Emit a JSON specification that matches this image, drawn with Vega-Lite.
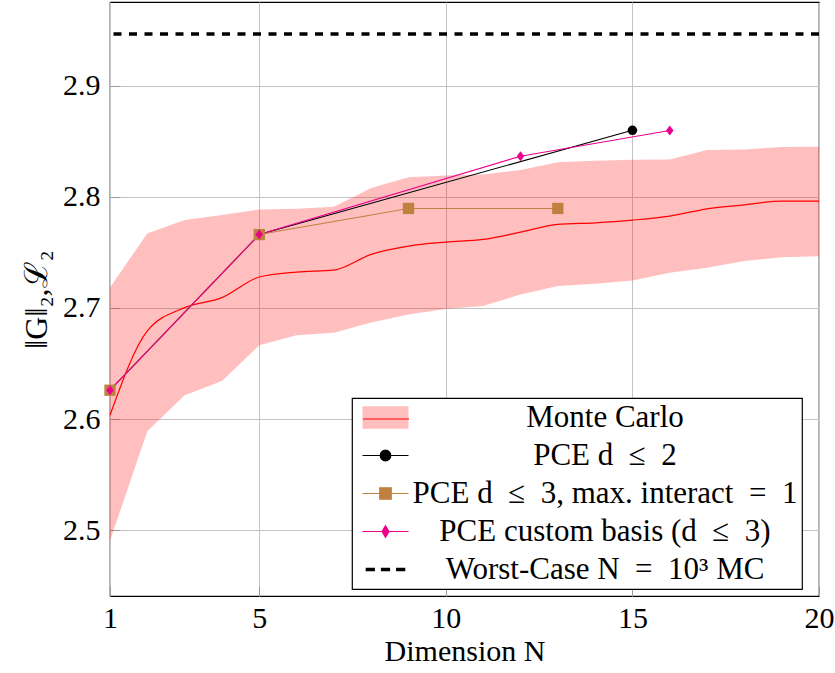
{
  "$schema": "https://vega.github.io/schema/vega-lite/v6.json",
  "width": 709,
  "height": 594,
  "autosize": {"type": "none"},
  "padding": {"left": 110, "top": 2, "right": 16, "bottom": 77},
  "background": "white",
  "config": {
    "view": {"stroke": "black", "strokeWidth": 1.2},
    "font": "Liberation Serif",
    "axis": {
      "grid": true, "gridColor": "#c4c4c4", "gridWidth": 1, "domain": false,
      "ticks": true, "tickSize": -10, "tickColor": "#9a9a9a", "tickWidth": 1,
      "labelFont": "Liberation Serif", "labelFontSize": 30, "labelColor": "black",
      "titleFont": "Liberation Serif", "titleFontSize": 30, "titleFontWeight": "normal", "titleColor": "black",
      "labelFlush": false, "labelOverlap": false, "labelBound": false
    }
  },
  "datasets": {
    "mc": [
      {"series": "Monte Carlo", "N": 1, "hi": 2.7185, "mean": 2.6035, "lo": 2.4906},
      {"series": "Monte Carlo", "N": 2, "hi": 2.767, "mean": 2.6793, "lo": 2.589},
      {"series": "Monte Carlo", "N": 3, "hi": 2.779, "mean": 2.7003, "lo": 2.6215},
      {"series": "Monte Carlo", "N": 4, "hi": 2.7835, "mean": 2.7093, "lo": 2.6343},
      {"series": "Monte Carlo", "N": 5, "hi": 2.7886, "mean": 2.7278, "lo": 2.6664},
      {"series": "Monte Carlo", "N": 6, "hi": 2.7893, "mean": 2.7323, "lo": 2.6754},
      {"series": "Monte Carlo", "N": 7, "hi": 2.791, "mean": 2.734, "lo": 2.6778},
      {"series": "Monte Carlo", "N": 8, "hi": 2.808, "mean": 2.7482, "lo": 2.6868},
      {"series": "Monte Carlo", "N": 9, "hi": 2.8176, "mean": 2.7556, "lo": 2.694},
      {"series": "Monte Carlo", "N": 10, "hi": 2.8192, "mean": 2.7592, "lo": 2.699},
      {"series": "Monte Carlo", "N": 11, "hi": 2.82, "mean": 2.7616, "lo": 2.7017},
      {"series": "Monte Carlo", "N": 12, "hi": 2.824, "mean": 2.7682, "lo": 2.7122},
      {"series": "Monte Carlo", "N": 13, "hi": 2.831, "mean": 2.7751, "lo": 2.7197},
      {"series": "Monte Carlo", "N": 14, "hi": 2.8324, "mean": 2.7766, "lo": 2.7218},
      {"series": "Monte Carlo", "N": 15, "hi": 2.8332, "mean": 2.779, "lo": 2.7248},
      {"series": "Monte Carlo", "N": 16, "hi": 2.8335, "mean": 2.7826, "lo": 2.7317},
      {"series": "Monte Carlo", "N": 17, "hi": 2.842, "mean": 2.7892, "lo": 2.7362},
      {"series": "Monte Carlo", "N": 18, "hi": 2.8425, "mean": 2.7928, "lo": 2.7422},
      {"series": "Monte Carlo", "N": 19, "hi": 2.8447, "mean": 2.796, "lo": 2.7457},
      {"series": "Monte Carlo", "N": 20, "hi": 2.845, "mean": 2.796, "lo": 2.7466}
    ],
    "pce": [
      {"series": "PCE d ≤ 2", "N": 1, "y": 2.626},
      {"series": "PCE d ≤ 2", "N": 5, "y": 2.766},
      {"series": "PCE d ≤ 2", "N": 15, "y": 2.8598},
      {"series": "PCE d ≤ 3, max. interact = 1", "N": 1, "y": 2.626},
      {"series": "PCE d ≤ 3, max. interact = 1", "N": 5, "y": 2.766},
      {"series": "PCE d ≤ 3, max. interact = 1", "N": 9, "y": 2.7895},
      {"series": "PCE d ≤ 3, max. interact = 1", "N": 13, "y": 2.7895},
      {"series": "PCE custom basis (d ≤ 3)", "N": 1, "y": 2.626},
      {"series": "PCE custom basis (d ≤ 3)", "N": 5, "y": 2.766},
      {"series": "PCE custom basis (d ≤ 3)", "N": 12, "y": 2.8365},
      {"series": "PCE custom basis (d ≤ 3)", "N": 16, "y": 2.8596}
    ],
    "worst": [
      {"series": "Worst-Case N = 10³ MC", "y": 2.9465}
    ]
  },
  "layer": [
    {
      "data": {"name": "mc"},
      "mark": {"type": "area", "fill": "#ff0000", "fillOpacity": 0.25, "stroke": null},
      "encoding": {
        "x": {"field": "N", "type": "quantitative", "title": "Dimension N",
              "scale": {"domain": [1, 20], "nice": false, "zero": false},
              "axis": {"values": [1, 5, 10, 15, 20], "labelPadding": 17, "titlePadding": 3, "labelFont": "Liberation Serif"}},
        "y": {"field": "lo", "type": "quantitative", "title": "‖G‖₂,ℒ₂",
              "scale": {"domain": [2.4409, 2.9752], "nice": false, "zero": false},
              "axis": {"values": [2.5, 2.6, 2.7, 2.8, 2.9], "format": ".1f", "labelPadding": 20, "titlePadding": 9, "titleFontSize": 32, "labelFont": "Liberation Serif"}},
        "y2": {"field": "hi"}
      }
    },
    {
      "data": {"name": "mc"},
      "mark": {"type": "line", "interpolate": "monotone", "stroke": "#ff0000"},
      "encoding": {
        "x": {"field": "N", "type": "quantitative", "title": "Dimension N"},
        "y": {"field": "mean", "type": "quantitative", "title": "‖G‖₂,ℒ₂"},
        "strokeWidth": {
          "field": "series", "type": "ordinal",
          "scale": {"domain": ["Monte Carlo"], "range": [1.2, 1.2]},
          "legend": {
            "title": null,
            "orient": "none",
            "legendX": 234,
            "legendY": 389,
            "direction": "vertical",
            "padding": 4,
            "strokeColor": null,
            "fillColor": null,
            "zindex": 2,
            "symbolSize": 2116,
            "symbolOffset": 14,
            "labelAlign": "center",
            "labelOffset": 204,
            "labelFont": "Liberation Serif",
            "labelFontSize": 31,
            "labelOpacity": 0,
            "labelExpr": "''",
            "labelLimit": 600,
            "rowPadding": 6,
            "encode": {
              "symbols": {
                "update": {
                  "shape": {"value": "M-1,0L1,0"},
                  "stroke": {"value": "#ff0000"},
                  "fill": {"value": "transparent"},
                  "strokeWidth": {"value": 1.3},
                  "size": {"value": 2116},
                  "opacity": {"value": 1},
                  "strokeOpacity": {"value": 1}
                }
              }
            }
          }
        }
      }
    },
    {
      "data": {"name": "pce"},
      "mark": {"type": "line", "strokeWidth": 1.1},
      "encoding": {
        "x": {"field": "N", "type": "quantitative", "title": "Dimension N"},
        "y": {"field": "y", "type": "quantitative", "title": "‖G‖₂,ℒ₂"},
        "color": {
          "field": "series", "type": "nominal",
          "scale": {
            "domain": ["Monte Carlo", "PCE d ≤ 2", "PCE d ≤ 3, max. interact = 1", "PCE custom basis (d ≤ 3)", "Worst-Case N = 10³ MC"],
            "range": ["#ffbfbf", "#000000", "#bf8040", "#ec008c", "#000000"]
          },
          "legend": {
            "title": null,
            "orient": "none",
            "legendX": 242,
            "legendY": 396,
            "direction": "vertical",
            "padding": 4,
            "strokeColor": "black",
            "fillColor": "white",
            "cornerRadius": 0,
            "zindex": 1,
            "symbolSize": 2116,
            "symbolOffset": 14,
            "labelAlign": "center",
            "labelOffset": 204,
            "labelFont": "Liberation Serif",
            "labelFontSize": 31,
            "labelColor": "black",
            "labelLimit": 600,
            "rowPadding": 6,
            "labelExpr": "datum.value === 'PCE d ≤ 3, max. interact = 1' ? '\u2004' + replace(replace(datum.label, ' ≤ ', '\u2002≤\u2002'), ' = ', '\u2002=\u2002') + '\u2004' : replace(replace(datum.label, ' ≤ ', '\u2002≤\u2002'), ' = ', '\u2002=\u2002')",
            "encode": {
              "legend": {"update": {"strokeWidth": {"value": 1.2}}},
              "symbols": {
                "update": {
                  "shape": {"signal": "datum.index===0 ? 'M-1,0L1,0L1,-0.49L-1,-0.49L-1,0.49L1,0.49L1,0Z' : datum.index===1 ? 'M-1,0L1,0M0.23,0A0.23,0.23 0 1,1 -0.23,0A0.23,0.23 0 1,1 0.23,0Z' : datum.index===2 ? 'M-1,0L1,0M-0.25,-0.25L0.25,-0.25L0.25,0.25L-0.25,0.25Z' : datum.index===3 ? 'M-1,0L1,0M0,-0.25L0.15,0L0,0.25L-0.15,0Z' : 'M-0.86,-0.08L-0.46,-0.08L-0.46,0.08L-0.86,0.08ZM-0.2,-0.08L0.2,-0.08L0.2,0.08L-0.2,0.08ZM0.46,-0.08L0.86,-0.08L0.86,0.08L0.46,0.08Z'"},
                  "strokeDash": {"signal": "datum.index===0 ? [46,3000] : []"},
                  "strokeWidth": {"signal": "datum.index===4 ? 0 : 1.2"},
                  "size": {"value": 2116},
                  "opacity": {"value": 1},
                  "fillOpacity": {"value": 1},
                  "strokeOpacity": {"value": 1}
                }
              }
            }
          }
        }
      }
    },
    {
      "data": {"name": "pce"},
      "transform": [{"filter": "datum.series === 'PCE d ≤ 2'"}],
      "mark": {"type": "point", "shape": "circle", "filled": true, "size": 90, "opacity": 1},
      "encoding": {
        "x": {"field": "N", "type": "quantitative", "title": "Dimension N"},
        "y": {"field": "y", "type": "quantitative", "title": "‖G‖₂,ℒ₂"},
        "color": {"field": "series", "type": "nominal"}
      }
    },
    {
      "data": {"name": "pce"},
      "transform": [{"filter": "datum.series === 'PCE d ≤ 3, max. interact = 1'"}],
      "mark": {"type": "point", "shape": "square", "filled": true, "size": 128, "opacity": 1},
      "encoding": {
        "x": {"field": "N", "type": "quantitative", "title": "Dimension N"},
        "y": {"field": "y", "type": "quantitative", "title": "‖G‖₂,ℒ₂"},
        "color": {"field": "series", "type": "nominal"}
      }
    },
    {
      "data": {"name": "pce"},
      "transform": [{"filter": "datum.series === 'PCE custom basis (d ≤ 3)'"}],
      "mark": {"type": "point", "shape": "M0,-1L0.75,0L0,1L-0.75,0Z", "filled": true, "size": 100, "opacity": 1},
      "encoding": {
        "x": {"field": "N", "type": "quantitative", "title": "Dimension N"},
        "y": {"field": "y", "type": "quantitative", "title": "‖G‖₂,ℒ₂"},
        "color": {"field": "series", "type": "nominal"}
      }
    },
    {
      "data": {"name": "worst"},
      "mark": {"type": "rule", "strokeWidth": 3.5, "strokeDash": [8, 7.5]},
      "encoding": {
        "y": {"field": "y", "type": "quantitative", "title": "‖G‖₂,ℒ₂"},
        "color": {"field": "series", "type": "nominal"}
      }
    }
  ]
}
